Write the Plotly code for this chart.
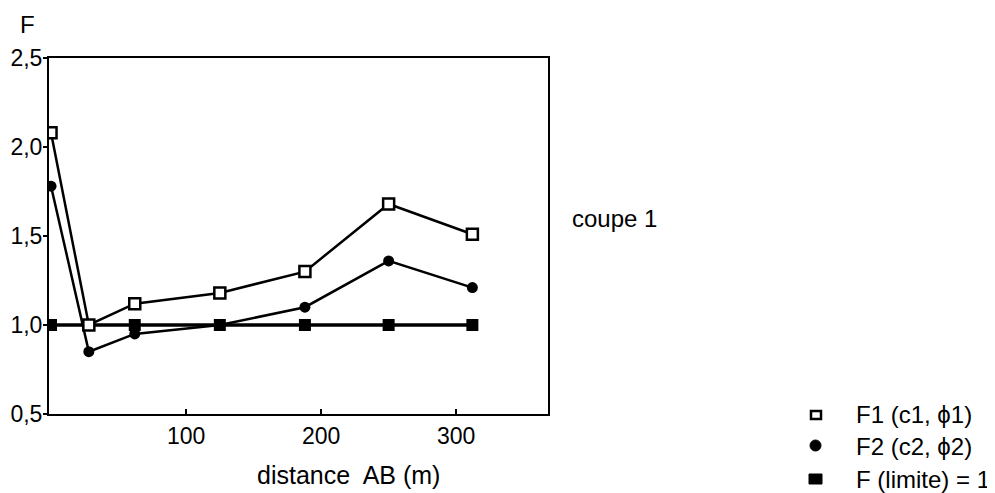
import plotly.graph_objects as go

# distance AB (m) at each section point
distance = [0, 28, 62, 125, 188, 250, 312]
f1 = [2.08, 1.0, 1.12, 1.18, 1.30, 1.68, 1.51]      # F1 (c1, phi1)
f2 = [1.78, 0.85, 0.95, 1.0, 1.10, 1.36, 1.21]      # F2 (c2, phi2)
f_lim = [1.0, 1.0, 1.0, 1.0, 1.0, 1.0, 1.0]          # F (limite) = 1

legend_names = ["F1 (c1, \u03d51)", "F2 (c2, \u03d52)", "F (limite) = 1"]
font = "Liberation Sans, Arial, sans-serif"

# the page adds an 8px body margin, so the figure is 8px smaller and
# every pixel position below is given in figure coordinates (page - 8)
W, H = 987, 485
L, R, T, B = 41, 540, 50, 406   # plot area


def px(x):
    return (x - L) / (R - L)


def py(y):
    return (B - y) / (B - T)


fig = go.Figure()

fig.add_trace(go.Scatter(x=distance, y=f_lim, mode="lines+markers",
                         line=dict(color="black", width=3.5),
                         marker=dict(symbol="square", size=12, color="black"),
                         showlegend=False))
fig.add_trace(go.Scatter(x=distance, y=f2, mode="lines+markers",
                         line=dict(color="black", width=2.5),
                         marker=dict(symbol="circle", size=11, color="black"),
                         showlegend=False))
fig.add_trace(go.Scatter(x=distance, y=f1, mode="lines+markers",
                         line=dict(color="black", width=2.5),
                         marker=dict(symbol="square", size=11, color="white",
                                     line=dict(color="black", width=2.5)),
                         showlegend=False))

fig.update_xaxes(range=[-1.5, 368], tickvals=[100, 200, 300], ticks="inside", ticklen=5,
                 tickcolor="black", tickwidth=1.5, showline=True, linecolor="black",
                 linewidth=2, mirror=True, showgrid=False, zeroline=False,
                 automargin=False,
                 tickfont=dict(size=23, color="black", family=font))
fig.update_yaxes(range=[0.5, 2.5], tickvals=[0.5, 1.0, 1.5, 2.0, 2.5], tickformat=".1f",
                 ticks="outside", ticklen=4, tickcolor="black", tickwidth=1.5,
                 ticklabelstandoff=-4,
                 showline=True, linecolor="black", linewidth=2, mirror=True,
                 showgrid=False, zeroline=False, automargin=False,
                 tickfont=dict(size=23, color="black", family=font))

# legend drawn by hand (marker + label), placed like the original
legend_y = [406, 438, 471]
shapes = [
    dict(type="rect", xref="paper", yref="paper",
         x0=px(803), x1=px(813), y0=py(411), y1=py(403),
         line=dict(color="black", width=2.5), fillcolor="white"),
    dict(type="circle", xref="paper", yref="paper",
         x0=px(802), x1=px(813), y0=py(443), y1=py(432),
         line=dict(color="black", width=1), fillcolor="black"),
    dict(type="rect", xref="paper", yref="paper",
         x0=px(801), x1=px(814), y0=py(476), y1=py(466),
         line=dict(color="black", width=1), fillcolor="black"),
]
annotations = [
    dict(text=name, x=px(846), y=py(yy), xref="paper", yref="paper", showarrow=False,
         xanchor="left", yanchor="middle", font=dict(size=24, color="black", family=font))
    for name, yy in zip(legend_names, legend_y)
]
annotations += [
    dict(text="distance  AB (m)", x=px(340), y=py(467), xref="paper", yref="paper",
         showarrow=False, xanchor="center", yanchor="middle",
         font=dict(size=25, color="black", family=font)),
    dict(text="F", x=px(19), y=py(16), xref="paper", yref="paper", showarrow=False,
         xanchor="center", yanchor="middle", font=dict(size=24, color="black", family=font)),
    dict(text="coupe 1", x=px(562), y=py(210), xref="paper", yref="paper", showarrow=False,
         xanchor="left", yanchor="middle", font=dict(size=24, color="black", family=font)),
]

fig.update_layout(
    width=W, height=H,
    margin=dict(l=L, r=W - R, t=T, b=H - B, autoexpand=False),
    paper_bgcolor="white", plot_bgcolor="white",
    separators=", ",
    showlegend=False,
    font=dict(family=font, color="black"),
    shapes=shapes,
    annotations=annotations,
)

fig.write_html("out.html")
